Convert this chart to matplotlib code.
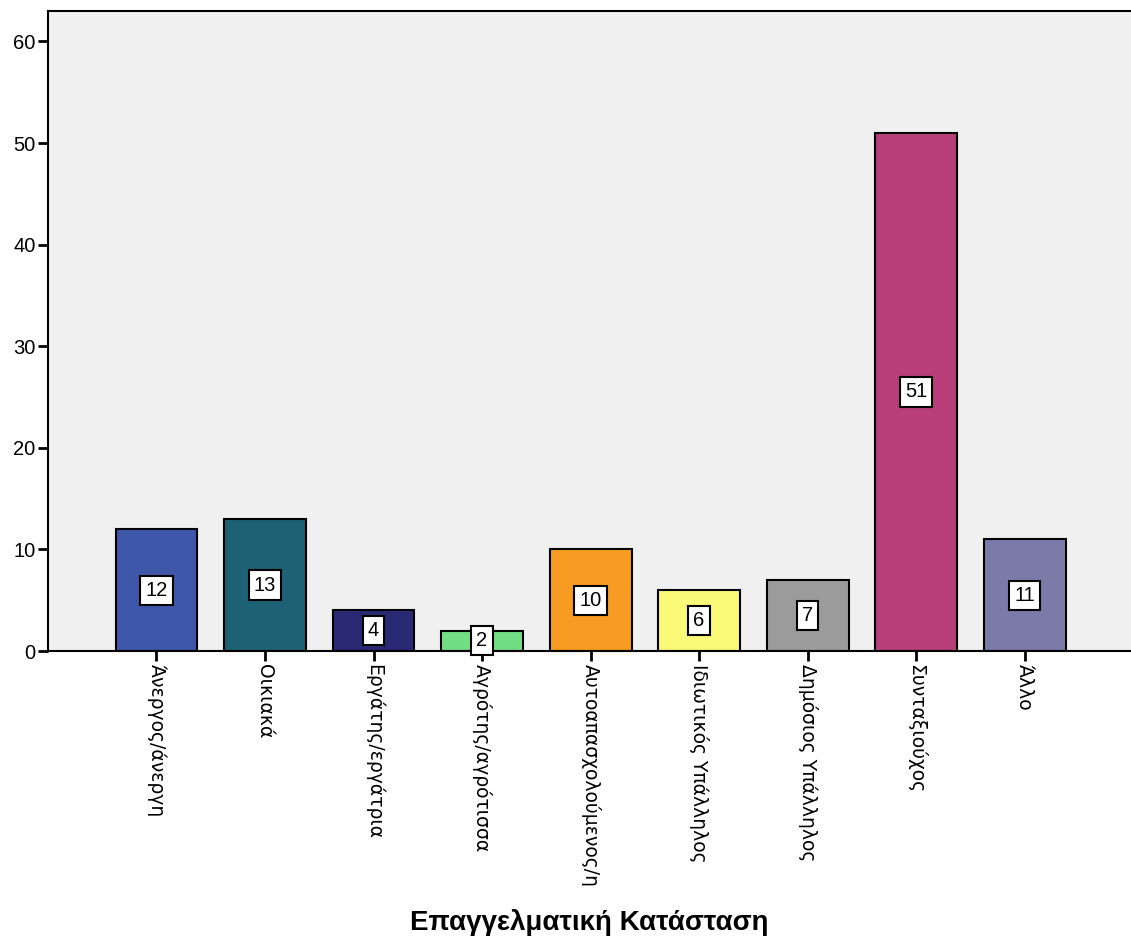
import numpy as np
import matplotlib
matplotlib.use('Agg')
import matplotlib.pyplot as plt

plt.rcParams['font.family'] = ['Liberation Sans', 'DejaVu Sans']

# categories and counts
categories = ['Άνεργος/άνεργη', 'Οικιακά', 'Εργάτης/εργάτρια', 'Αγρότης/αγρότισσα',
              'Αυτοαπασχολούμενος/η', 'Ιδιωτικός Υπάλληλος', 'Δημόσιος Υπάλληλος',
              'Συνταξιούχος', 'Άλλο']
counts = [12, 13, 4, 2, 10, 6, 7, 51, 11]
colors = ['#3F57A8', '#1E6175', '#292A73', '#72DE84', '#F89B22',
          '#FAF978', '#9B9B9B', '#B83F7A', '#7A7BA8']
y_ticks = [0, 10, 20, 30, 40, 50, 60]

fig = plt.figure(figsize=(11.31, 9.40), dpi=100)
ax = fig.add_axes([0.0424, 0.3074, 0.9576, 0.6809])
ax.set_facecolor('#F0F0F0')

x = np.arange(len(categories))
ax.bar(x, counts, width=0.755, color=colors, edgecolor='black', linewidth=1.5, zorder=2)

# value boxes in the middle of each bar
for xi, c in zip(x, counts):
    ax.text(xi, c / 2, str(c), ha='center', va='center', fontsize=14.5, zorder=5,
            clip_on=False,
            bbox=dict(boxstyle='square,pad=0.25', facecolor='white', edgecolor='black', linewidth=1.5))

ax.set_xlim(-1, 8.98)
ax.set_ylim(0, 63)
ax.set_yticks(y_ticks)
ax.set_xticks(x)
ax.set_xticklabels(categories, rotation=270, ha='center', va='top', fontsize=13.5,
                   family='DejaVu Sans')
ax.tick_params(axis='both', direction='out', length=7, width=2, pad=2)
ax.tick_params(axis='y', labelsize=14.5)

for side in ['left', 'top', 'right', 'bottom']:
    ax.spines[side].set_linewidth(1.5)
ax.spines['right'].set_visible(False)

ax.set_xlabel('Επαγγελματική Κατάσταση', fontsize=20, fontweight='bold')
ax.xaxis.set_label_coords(0.5, -0.403)

fig.savefig('out.png', dpi=100)
